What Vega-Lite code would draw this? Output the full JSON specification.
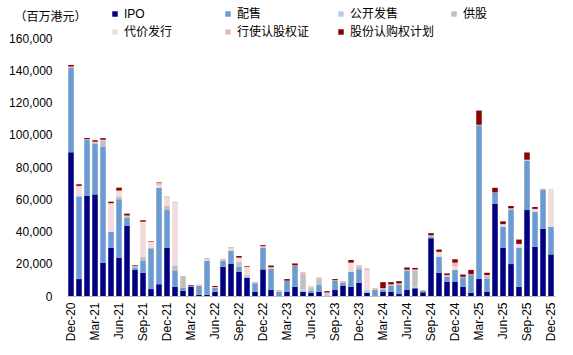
{
  "$schema": "https://vega.github.io/schema/vega-lite/v6.json",
  "width": 488,
  "height": 258,
  "autosize": {"type": "none"},
  "padding": {"left": 67, "top": 38, "right": 18, "bottom": 59},
  "config": {
    "view": {"stroke": null},
    "font": "Liberation Sans, Noto Sans CJK SC",
    "axis": {"labelColor": "#000", "titleColor": "#000"},
    "legend": {"labelColor": "#000"}
  },
  "data": {
    "values": [
      {"m": "Dec-20", "IPO": 89100, "配售": 52500, "公开发售": 0, "供股": 0, "代价发行": 0, "行使认股权证": 700, "股份认购权计划": 1000},
      {"m": "Jan-21", "IPO": 10500, "配售": 51300, "公开发售": 0, "供股": 0, "代价发行": 6200, "行使认股权证": 300, "股份认购权计划": 1000},
      {"m": "Feb-21", "IPO": 62000, "配售": 35000, "公开发售": 0, "供股": 0, "代价发行": 0, "行使认股权证": 300, "股份认购权计划": 700},
      {"m": "Mar-21", "IPO": 63000, "配售": 31300, "公开发售": 0, "供股": 1000, "代价发行": 0, "行使认股权证": 400, "股份认购权计划": 900},
      {"m": "Apr-21", "IPO": 20700, "配售": 71700, "公开发售": 0, "供股": 4100, "代价发行": 0, "行使认股权证": 400, "股份认购权计划": 1000},
      {"m": "May-21", "IPO": 29800, "配售": 10100, "公开发售": 0, "供股": 0, "代价发行": 17300, "行使认股权证": 400, "股份认购权计划": 900},
      {"m": "Jun-21", "IPO": 23800, "配售": 36200, "公开发售": 0, "供股": 1400, "代价发行": 3600, "行使认股权证": 400, "股份认购权计划": 1800},
      {"m": "Jul-21", "IPO": 43400, "配售": 5200, "公开发售": 0, "供股": 800, "代价发行": 0, "行使认股权证": 500, "股份认购权计划": 1200},
      {"m": "Aug-21", "IPO": 16100, "配售": 1600, "公开发售": 400, "供股": 0, "代价发行": 0, "行使认股权证": 400, "股份认购权计划": 500},
      {"m": "Sep-21", "IPO": 14300, "配售": 7400, "公开发售": 0, "供股": 2500, "代价发行": 21600, "行使认股权证": 300, "股份认购权计划": 900},
      {"m": "Oct-21", "IPO": 4300, "配售": 25300, "公开发售": 0, "供股": 0, "代价发行": 3700, "行使认股权证": 500, "股份认购权计划": 300},
      {"m": "Nov-21", "IPO": 7300, "配售": 59900, "公开发售": 0, "供股": 0, "代价发行": 1700, "行使认股权证": 1300, "股份认购权计划": 300},
      {"m": "Dec-21", "IPO": 29800, "配售": 23500, "公开发售": 0, "供股": 2500, "代价发行": 5200, "行使认股权证": 800, "股份认购权计划": 0},
      {"m": "Jan-22", "IPO": 5600, "配售": 9900, "公开发售": 0, "供股": 3500, "代价发行": 38900, "行使认股权证": 600, "股份认购权计划": 0},
      {"m": "Feb-22", "IPO": 3200, "配售": 1800, "公开发售": 0, "供股": 6800, "代价发行": 0, "行使认股权证": 600, "股份认购权计划": 0},
      {"m": "Mar-22", "IPO": 5600, "配售": 800, "公开发售": 0, "供股": 0, "代价发行": 0, "行使认股权证": 0, "股份认购权计划": 400},
      {"m": "Apr-22", "IPO": 800, "配售": 5600, "公开发售": 0, "供股": 0, "代价发行": 0, "行使认股权证": 600, "股份认购权计划": 0},
      {"m": "May-22", "IPO": 800, "配售": 21100, "公开发售": 0, "供股": 0, "代价发行": 600, "行使认股权证": 1000, "股份认购权计划": 0},
      {"m": "Jun-22", "IPO": 2700, "配售": 2500, "公开发售": 0, "供股": 0, "代价发行": 0, "行使认股权证": 400, "股份认购权计划": 600},
      {"m": "Jul-22", "IPO": 18200, "配售": 3700, "公开发售": 0, "供股": 0, "代价发行": 0, "行使认股权证": 1200, "股份认购权计划": 0},
      {"m": "Aug-22", "IPO": 20100, "配售": 8100, "公开发售": 0, "供股": 0, "代价发行": 1200, "行使认股权证": 1000, "股份认购权计划": 0},
      {"m": "Sep-22", "IPO": 15100, "配售": 3100, "公开发售": 0, "供股": 3100, "代价发行": 2500, "行使认股权证": 0, "股份认购权计划": 1000},
      {"m": "Oct-22", "IPO": 11400, "配售": 0, "公开发售": 1600, "供股": 0, "代价发行": 5000, "行使认股权证": 200, "股份认购权计划": 400},
      {"m": "Nov-22", "IPO": 2700, "配售": 5200, "公开发售": 0, "供股": 0, "代价发行": 0, "行使认股权证": 800, "股份认购权计划": 0},
      {"m": "Dec-22", "IPO": 16500, "配售": 13400, "公开发售": 0, "供股": 0, "代价发行": 0, "行使认股权证": 1000, "股份认购权计划": 600},
      {"m": "Jan-23", "IPO": 3700, "配售": 13200, "公开发售": 0, "供股": 0, "代价发行": 0, "行使认股权证": 1000, "股份认购权计划": 1000},
      {"m": "Feb-23", "IPO": 0, "配售": 2700, "公开发售": 0, "供股": 0, "代价发行": 0, "行使认股权证": 1000, "股份认购权计划": 0},
      {"m": "Mar-23", "IPO": 2700, "配售": 6800, "公开发售": 0, "供股": 0, "代价发行": 0, "行使认股权证": 0, "股份认购权计划": 1000},
      {"m": "Apr-23", "IPO": 5800, "配售": 12800, "公开发售": 0, "供股": 0, "代价发行": 0, "行使认股权证": 400, "股份认购权计划": 1200},
      {"m": "May-23", "IPO": 2700, "配售": 0, "公开发售": 1400, "供股": 9700, "代价发行": 0, "行使认股权证": 1000, "股份认购权计划": 0},
      {"m": "Jun-23", "IPO": 2100, "配售": 1000, "公开发售": 0, "供股": 2100, "代价发行": 0, "行使认股权证": 800, "股份认购权计划": 0},
      {"m": "Jul-23", "IPO": 2700, "配售": 4100, "公开发售": 0, "供股": 3700, "代价发行": 0, "行使认股权证": 1000, "股份认购权计划": 0},
      {"m": "Aug-23", "IPO": 0, "配售": 0, "公开发售": 1600, "供股": 0, "代价发行": 0, "行使认股权证": 600, "股份认购权计划": 800},
      {"m": "Sep-23", "IPO": 3700, "配售": 5600, "公开发售": 0, "供股": 0, "代价发行": 0, "行使认股权证": 500, "股份认购权计划": 700},
      {"m": "Oct-23", "IPO": 6200, "配售": 2100, "公开发售": 0, "供股": 0, "代价发行": 0, "行使认股权证": 1000, "股份认购权计划": 0},
      {"m": "Nov-23", "IPO": 5800, "配售": 9300, "公开发售": 0, "供股": 0, "代价发行": 5600, "行使认股权证": 0, "股份认购权计划": 1600},
      {"m": "Dec-23", "IPO": 8300, "配售": 8300, "公开发售": 0, "供股": 1600, "代价发行": 0, "行使认股权证": 1000, "股份认购权计划": 0},
      {"m": "Jan-24", "IPO": 2100, "配售": 0, "公开发售": 1600, "供股": 0, "代价发行": 12400, "行使认股权证": 1000, "股份认购权计划": 0},
      {"m": "Feb-24", "IPO": 0, "配售": 3700, "公开发售": 0, "供股": 0, "代价发行": 0, "行使认股权证": 1200, "股份认购权计划": 0},
      {"m": "Mar-24", "IPO": 2700, "配售": 1400, "公开发售": 0, "供股": 0, "代价发行": 0, "行使认股权证": 800, "股份认购权计划": 3700},
      {"m": "Apr-24", "IPO": 2700, "配售": 3700, "公开发售": 0, "供股": 0, "代价发行": 0, "行使认股权证": 800, "股份认购权计划": 1400},
      {"m": "May-24", "IPO": 1200, "配售": 6000, "公开发售": 0, "供股": 0, "代价发行": 0, "行使认股权证": 600, "股份认购权计划": 1400},
      {"m": "Jun-24", "IPO": 3700, "配售": 12000, "公开发售": 0, "供股": 0, "代价发行": 0, "行使认股权证": 600, "股份认购权计划": 1400},
      {"m": "Jul-24", "IPO": 4800, "配售": 0, "公开发售": 1000, "供股": 10100, "代价发行": 500, "行使认股权证": 0, "股份认购权计划": 1000},
      {"m": "Aug-24", "IPO": 2300, "配售": 800, "公开发售": 0, "供股": 0, "代价发行": 0, "行使认股权证": 600, "股份认购权计划": 0},
      {"m": "Sep-24", "IPO": 35800, "配售": 800, "公开发售": 600, "供股": 0, "代价发行": 0, "行使认股权证": 400, "股份认购权计划": 1400},
      {"m": "Oct-24", "IPO": 14500, "配售": 9900, "公开发售": 0, "供股": 0, "代价发行": 2700, "行使认股权证": 300, "股份认购权计划": 1400},
      {"m": "Nov-24", "IPO": 8900, "配售": 3100, "公开发售": 0, "供股": 0, "代价发行": 0, "行使认股权证": 1000, "股份认购权计划": 1000},
      {"m": "Dec-24", "IPO": 8900, "配售": 7200, "公开发售": 0, "供股": 0, "代价发行": 2100, "行使认股权证": 2500, "股份认购权计划": 2100},
      {"m": "Jan-25", "IPO": 5800, "配售": 5800, "公开发售": 0, "供股": 0, "代价发行": 0, "行使认股权证": 300, "股份认购权计划": 1400},
      {"m": "Feb-25", "IPO": 2100, "配售": 11000, "公开发售": 0, "供股": 0, "代价发行": 0, "行使认股权证": 400, "股份认购权计划": 2700},
      {"m": "Mar-25", "IPO": 10500, "配售": 95400, "公开发售": 0, "供股": 0, "代价发行": 0, "行使认股权证": 300, "股份认购权计划": 8800},
      {"m": "Apr-25", "IPO": 2700, "配售": 8100, "公开发售": 0, "供股": 1900, "代价发行": 0, "行使认股权证": 300, "股份认购权计划": 1400},
      {"m": "May-25", "IPO": 57200, "配售": 6800, "公开发售": 0, "供股": 0, "代价发行": 0, "行使认股权证": 200, "股份认购权计划": 2900},
      {"m": "Jun-25", "IPO": 30000, "配售": 13000, "公开发售": 0, "供股": 0, "代价发行": 1200, "行使认股权证": 400, "股份认购权计划": 1700},
      {"m": "Jul-25", "IPO": 19800, "配售": 33900, "公开发售": 0, "供股": 0, "代价发行": 0, "行使认股权证": 700, "股份认购权计划": 1400},
      {"m": "Aug-25", "IPO": 5800, "配售": 24200, "公开发售": 0, "供股": 0, "代价发行": 2100, "行使认股权证": 200, "股份认购权计划": 2700},
      {"m": "Sep-25", "IPO": 53300, "配售": 30600, "公开发售": 0, "供股": 0, "代价发行": 0, "行使认股权证": 600, "股份认购权计划": 4500},
      {"m": "Oct-25", "IPO": 30600, "配售": 21700, "公开发售": 0, "供股": 0, "代价发行": 1400, "行使认股权证": 300, "股份认购权计划": 1200},
      {"m": "Nov-25", "IPO": 41800, "配售": 24200, "公开发售": 0, "供股": 0, "代价发行": 0, "行使认股权证": 600, "股份认购权计划": 0},
      {"m": "Dec-25", "IPO": 25800, "配售": 17200, "公开发售": 0, "供股": 0, "代价发行": 22700, "行使认股权证": 400, "股份认购权计划": 0}
    ]
  },
  "transform": [
    {"fold": ["IPO", "配售", "公开发售", "供股", "代价发行", "行使认股权证", "股份认购权计划"], "as": ["k", "v"]},
    {"calculate": "indexof(['IPO','配售','公开发售','供股','代价发行','行使认股权证','股份认购权计划'], datum.k)", "as": "o"}
  ],
  "mark": {"type": "bar"},
  "encoding": {
    "x": {
      "field": "m",
      "type": "ordinal",
      "sort": null,
      "scale": {"paddingInner": 0.31, "paddingOuter": 0.155},
      "axis": {
        "title": null,
        "values": ["Dec-20", "Mar-21", "Jun-21", "Sep-21", "Dec-21", "Mar-22", "Jun-22", "Sep-22", "Dec-22", "Mar-23", "Jun-23", "Sep-23", "Dec-23", "Mar-24", "Jun-24", "Sep-24", "Dec-24", "Mar-25", "Jun-25", "Sep-25", "Dec-25"],
        "labelAngle": -90,
        "labelFontSize": 12,
        "labelPadding": 6,
        "ticks": false,
        "domainColor": "#BFBFBF",
        "domainWidth": 1
      }
    },
    "y": {
      "field": "v",
      "type": "quantitative",
      "stack": "zero",
      "scale": {"domain": [0, 160000], "nice": false},
      "axis": {
        "values": [0, 20000, 40000, 60000, 80000, 100000, 120000, 140000, 160000],
        "format": ",.0f",
        "grid": false,
        "domain": false,
        "ticks": false,
        "labelFontSize": 12,
        "labelPadding": 15,
        "title": "（百万港元）",
        "titleAngle": 0,
        "titleAlign": "left",
        "titleBaseline": "middle",
        "titleX": -53,
        "titleY": -22,
        "titleFontSize": 12,
        "titleFontWeight": "normal"
      }
    },
    "color": {
      "field": "k",
      "type": "nominal",
      "scale": {
        "domain": ["IPO", "配售", "公开发售", "供股", "代价发行", "行使认股权证", "股份认购权计划"],
        "range": ["#000080", "#6C9BD2", "#B9CDE5", "#C0C0C0", "#F2DCDB", "#E6B9B8", "#8B0000"]
      },
      "legend": {
        "title": null,
        "orient": "none",
        "direction": "horizontal",
        "legendX": 42,
        "legendY": -30,
        "columns": 4,
        "gridAlign": "all",
        "columnPadding": 13,
        "rowPadding": 6,
        "symbolType": "square",
        "symbolSize": 30,
        "symbolStrokeWidth": 0,
        "labelFontSize": 12,
        "labelOffset": 3
      }
    },
    "order": {"field": "o", "type": "quantitative", "sort": "ascending"}
  }
}
